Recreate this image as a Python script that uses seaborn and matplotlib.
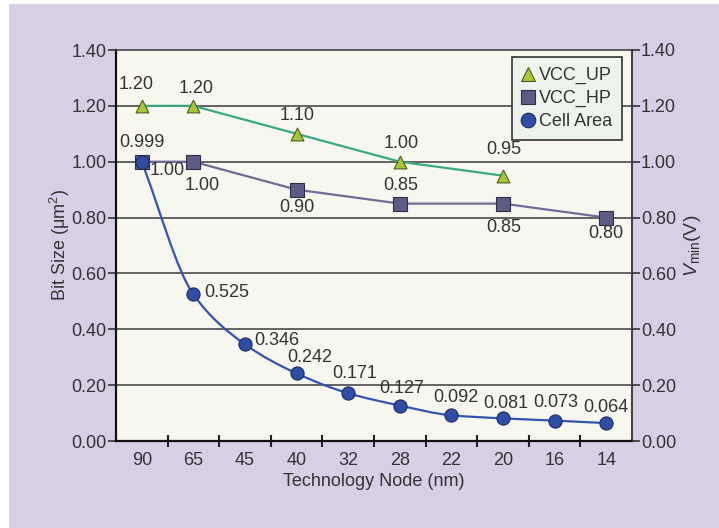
import matplotlib
matplotlib.use("Agg")
import numpy as np
import pandas as pd
import matplotlib.pyplot as plt
import seaborn as sns
from matplotlib.path import Path
from matplotlib.patches import PathPatch, Rectangle
from matplotlib.lines import Line2D
from matplotlib.ticker import FormatStrFormatter, FixedLocator

# ---- data ----
nodes = ["90", "65", "45", "40", "32", "28", "22", "20", "16", "14"]
cell_area = [0.999, 0.525, 0.346, 0.242, 0.171, 0.127, 0.092, 0.081, 0.073, 0.064]
cell_labels = ["0.999", "0.525", "0.346", "0.242", "0.171", "0.127", "0.092", "0.081", "0.073", "0.064"]

vcc_up_nodes = ["90", "65", "40", "28", "20"]
vcc_up = [1.20, 1.20, 1.10, 1.00, 0.95]
vcc_up_labels = ["1.20", "1.20", "1.10", "1.00", "0.95"]

vcc_hp_nodes = ["90", "65", "40", "28", "20", "14"]
vcc_hp = [1.00, 1.00, 0.90, 0.85, 0.85, 0.80]
vcc_hp_labels = ["1.00", "1.00", "0.90", "0.85", "0.85", "0.80"]

y_ticks = [0.00, 0.20, 0.40, 0.60, 0.80, 1.00, 1.20, 1.40]

# label placement (pixel offsets from each marker)
up_off = [(-6, 21), (3, 17), (1, 18), (1, 18), (1, 26)]
hp_off = [(25, -9), (9, -24), (0, -18), (1, 18), (1, -24), (0, -16)]
cell_off = [(0, 19), (11, 2), (9, 4), (13, 16), (6, 20), (2, 17), (4, 18), (3, 15), (1, 18), (0, 16)]
cell_ha = ["center", "left", "left", "center", "center", "center", "center", "center", "center", "center"]

# ---- style ----
sns.set_theme(style="white")
plt.rcParams["font.family"] = ["Liberation Sans", "DejaVu Sans"]
plt.rcParams["mathtext.fontset"] = "custom"
plt.rcParams["mathtext.rm"] = "Liberation Sans"
plt.rcParams["mathtext.it"] = "Liberation Sans:italic"

TXT = "#333333"
FS = 13
LAV = "#D8CFE7"
PLOT_BG = "#F7F6EF"

C_CELL, C_CELL_LINE, C_CELL_EDGE = "#2F4DA3", "#3553B2", "#1E2C66"
C_HP, C_HP_LINE, C_HP_EDGE = "#5C5C84", "#6E6C96", "#2E2E4C"
C_UP, C_UP_LINE, C_UP_EDGE = "#A6C63A", "#38A982", "#4C5E1E"

W, H = 719, 528
fig = plt.figure(figsize=(W / 100, H / 100), dpi=100, facecolor="white")
fig.patches.append(Rectangle((9 / W, 0), 1 - 9 / W, 1 - 4 / H, transform=fig.transFigure,
                             facecolor=LAV, edgecolor="none", zorder=-10))

ax_l, ax_r, ax_t, ax_b = 116, 632, 50, 441
ax = fig.add_axes([ax_l / W, 1 - ax_b / H, (ax_r - ax_l) / W, (ax_b - ax_t) / H])
ax.set_facecolor(PLOT_BG)

pos = {n: i for i, n in enumerate(nodes)}
df_cell = pd.DataFrame({"x": [pos[n] for n in nodes], "y": cell_area})
df_up = pd.DataFrame({"x": [pos[n] for n in vcc_up_nodes], "y": vcc_up})
df_hp = pd.DataFrame({"x": [pos[n] for n in vcc_hp_nodes], "y": vcc_hp})


def smooth_path(xs, ys):
    """Shape-preserving (PCHIP-style) cubic Bezier path through the points."""
    x = np.asarray(xs, float)
    y = np.asarray(ys, float)
    h = np.diff(x)
    d = np.diff(y) / h
    n = len(x)
    m = np.zeros(n)
    m[0], m[-1] = d[0], d[-1]
    for k in range(1, n - 1):
        if d[k - 1] * d[k] > 0:
            w1 = 2 * h[k] + h[k - 1]
            w2 = h[k] + 2 * h[k - 1]
            m[k] = (w1 + w2) / (w1 / d[k - 1] + w2 / d[k])
    verts = [(x[0], y[0])]
    codes = [Path.MOVETO]
    for k in range(n - 1):
        verts += [(x[k] + h[k] / 3, y[k] + m[k] * h[k] / 3),
                  (x[k + 1] - h[k] / 3, y[k + 1] - m[k + 1] * h[k] / 3),
                  (x[k + 1], y[k + 1])]
        codes += [Path.CURVE4] * 3
    return Path(verts, codes)


# connecting lines: straight for the voltages, smoothed for the cell area
sns.lineplot(data=df_up, x="x", y="y", color=C_UP_LINE, lw=1.6, zorder=3, ax=ax,
             legend=False, estimator=None, sort=False)
sns.lineplot(data=df_hp, x="x", y="y", color=C_HP_LINE, lw=1.6, zorder=3, ax=ax,
             legend=False, estimator=None, sort=False)
ax.add_patch(PathPatch(smooth_path(df_cell["x"], df_cell["y"]), facecolor="none",
                       edgecolor=C_CELL_LINE, lw=1.6, zorder=3))

sns.scatterplot(data=df_up, x="x", y="y", marker="^", s=85, color=C_UP,
                edgecolor=C_UP_EDGE, linewidth=0.8, zorder=5, ax=ax, legend=False)
sns.scatterplot(data=df_hp, x="x", y="y", marker="s", s=90, color=C_HP,
                edgecolor=C_HP_EDGE, linewidth=0.8, zorder=5, ax=ax, legend=False)
sns.scatterplot(data=df_cell, x="x", y="y", marker="o", s=90, color=C_CELL,
                edgecolor=C_CELL_EDGE, linewidth=0.8, zorder=6, ax=ax, legend=False)

# value labels
def put_labels(d, labels, offs, has=None):
    for i, (x, y, t) in enumerate(zip(d["x"], d["y"], labels)):
        ha = has[i] if has else "center"
        ax.annotate(t, (x, y), xytext=offs[i], textcoords="offset pixels",
                    ha=ha, va="center", fontsize=FS, color=TXT, zorder=7)

put_labels(df_up, vcc_up_labels, up_off)
put_labels(df_hp, vcc_hp_labels, hp_off)
put_labels(df_cell, cell_labels, cell_off, cell_ha)

# axes
ax.set_xlim(-0.5, len(nodes) - 0.5)
ax.set_ylim(0, 1.40)
ax.set_yticks(y_ticks)
ax.yaxis.set_major_formatter(FormatStrFormatter("%.2f"))
ax.set_xticks(range(len(nodes)))
ax.set_xticklabels(nodes)
ax.xaxis.set_minor_locator(FixedLocator(np.arange(0.5, len(nodes) - 1, 1.0)))
ax.tick_params(axis="x", which="major", length=0, pad=8, labelsize=FS, labelcolor=TXT)
ax.tick_params(axis="x", which="minor", direction="inout", length=8, width=1.5,
               color="#222222", bottom=True)
ax.tick_params(axis="y", which="major", direction="out", length=6, width=1.2,
               color="#333333", left=True, pad=1, labelsize=FS, labelcolor=TXT)

for yv in y_ticks[1:-1]:
    ax.axhline(yv, color="#4A4A4A", lw=1.2, zorder=1)

for side in ("left", "bottom"):
    ax.spines[side].set_color("#111111")
    ax.spines[side].set_linewidth(1.6)
ax.spines["top"].set_color("#444444")
ax.spines["top"].set_linewidth(1.2)
ax.spines["right"].set_color("#444444")
ax.spines["right"].set_linewidth(1.5)

ax.set_xlabel("Technology Node (nm)", fontsize=FS, color=TXT, labelpad=3)
ax.set_ylabel("Bit Size (\u03bcm$^2$)", fontsize=FS, color=TXT)
ax.yaxis.set_label_coords((72 - ax_l) / (ax_r - ax_l), 0.5)

ax2 = ax.twinx()
ax2.set_ylim(0, 1.40)
ax2.set_yticks(y_ticks)
ax2.yaxis.set_major_formatter(FormatStrFormatter("%.2f"))
ax2.tick_params(axis="y", direction="out", length=6, width=1.2, color="#333333",
                right=True, pad=0.5, labelsize=FS, labelcolor=TXT)
for s in ax2.spines.values():
    s.set_visible(False)
ax2.set_ylabel(r"$V_{\mathrm{min}}$(V)", fontsize=FS + 1, color=TXT, rotation=90)
ax2.yaxis.set_label_coords((682 - ax_l) / (ax_r - ax_l), 0.5)

# legend
handles = [
    Line2D([], [], ls="none", marker="^", ms=10, mfc=C_UP, mec=C_UP_EDGE, mew=0.8),
    Line2D([], [], ls="none", marker="s", ms=10, mfc=C_HP, mec=C_HP_EDGE, mew=0.8),
    Line2D([], [], ls="none", marker="o", ms=10.5, mfc=C_CELL, mec=C_CELL_EDGE, mew=0.8),
]
leg = ax2.legend(handles, ["VCC_UP", "VCC_HP", "Cell Area"], loc="upper right",
                 bbox_to_anchor=((622 - ax_l) / (ax_r - ax_l), (ax_b - 57) / (ax_b - ax_t)),
                 fontsize=FS, frameon=True, fancybox=False, framealpha=1,
                 handlelength=0.7, handletextpad=0.25, borderpad=0.55, labelspacing=0.33,
                 borderaxespad=0)
leg.get_frame().set_facecolor("#EEF3EE")
leg.get_frame().set_edgecolor("#333333")
leg.get_frame().set_linewidth(1.2)
leg.set_zorder(10)
for t in leg.get_texts():
    t.set_color(TXT)

fig.savefig("out.png", dpi=100, facecolor=fig.get_facecolor())
